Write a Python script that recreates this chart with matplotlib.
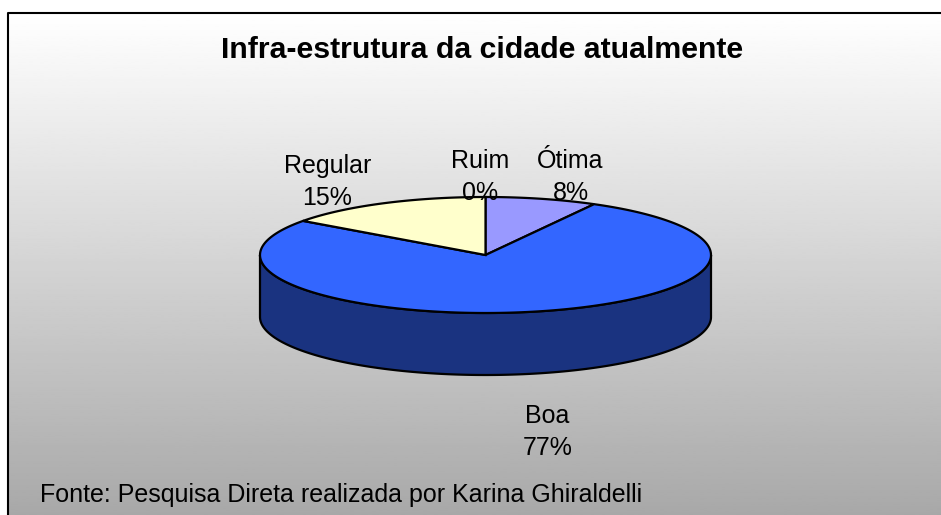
import numpy as np
import matplotlib
matplotlib.use("Agg")
import matplotlib.pyplot as plt
from matplotlib.patches import Polygon

plt.rcParams["font.family"] = ["Liberation Sans", "DejaVu Sans"]

# ---- data ----
title = "Infra-estrutura da cidade atualmente"
categories = ["Ótima", "Boa", "Regular", "Ruim"]
values = [8, 77, 15, 0]
top_colors = ["#9999FF", "#3366FF", "#FFFFCC", "#660066"]
side_colors = ["#4D4D80", "#1A3380", "#808066", "#330033"]
source = "Fonte: Pesquisa Direta realizada por Karina Ghiraldelli"

# ---- layout (pixels) ----
W, H = 941, 515
cx, cy = 485.5, 255.0
a, b = 225.5, 58.0
depth = 62.0

fig = plt.figure(figsize=(W / 100, H / 100), dpi=100)
ax = fig.add_axes([0, 0, 1, 1])
ax.set_xlim(0, W)
ax.set_ylim(H, 0)
ax.axis("off")

# gradient background with frame on left/top
left, top = 8, 13
grad = np.linspace(1.0, 0.66, 256).reshape(-1, 1)
ax.imshow(grad, cmap="gray", vmin=0, vmax=1, extent=[left, W, H, top],
          aspect="auto", zorder=0)
ax.plot([left, left, W], [H, top, top], color="black", lw=1.5, zorder=1)


def ellipse_pts(t0, t1, n=200):
    # t measured clockwise from 12 o'clock, degrees
    t = np.radians(np.linspace(t0, t1, n))
    return cx + a * np.sin(t), cy - b * np.cos(t)


total = float(sum(values))
fracs = [v / total for v in values]
starts = np.concatenate([[0], np.cumsum(fracs)[:-1]]) * 360
ends = starts + np.array(fracs) * 360

# side walls (front half only: 90..270 deg)
for s, e, sc in zip(starts, ends, side_colors):
    lo, hi = max(s, 90), min(e, 270)
    if hi <= lo:
        continue
    x, y = ellipse_pts(lo, hi)
    xs = np.concatenate([x, x[::-1]])
    ys = np.concatenate([y, y[::-1] + depth])
    ax.add_patch(Polygon(np.column_stack([xs, ys]), closed=True,
                         facecolor=sc, edgecolor="black", lw=1.6, zorder=2))

# top faces
for s, e, tc in zip(starts, ends, top_colors):
    if e - s <= 0:
        continue
    x, y = ellipse_pts(s, e)
    xs = np.concatenate([[cx], x])
    ys = np.concatenate([[cy], y])
    ax.add_patch(Polygon(np.column_stack([xs, ys]), closed=True,
                         facecolor=tc, edgecolor="black", lw=1.6, zorder=3))

# labels: (x center, baseline of first line)
label_pos = {"Ótima": (570.5, 168), "Boa": (547.5, 423),
             "Regular": (327.5, 173), "Ruim": (480, 168)}
line_gap = 32
for cat, v in zip(categories, values):
    lx, ly = label_pos[cat]
    ax.text(lx, ly, cat, ha="center", va="baseline", fontsize=18, zorder=5)
    ax.text(lx, ly + line_gap, f"{v}%", ha="center", va="baseline",
            fontsize=18, zorder=5)

ax.text(482, 58, title, ha="center", va="baseline", fontsize=21.8,
        fontweight="bold", zorder=5)
ax.text(40, 502, source, ha="left", va="baseline", fontsize=18, zorder=5)

fig.savefig("out.png", dpi=100)
